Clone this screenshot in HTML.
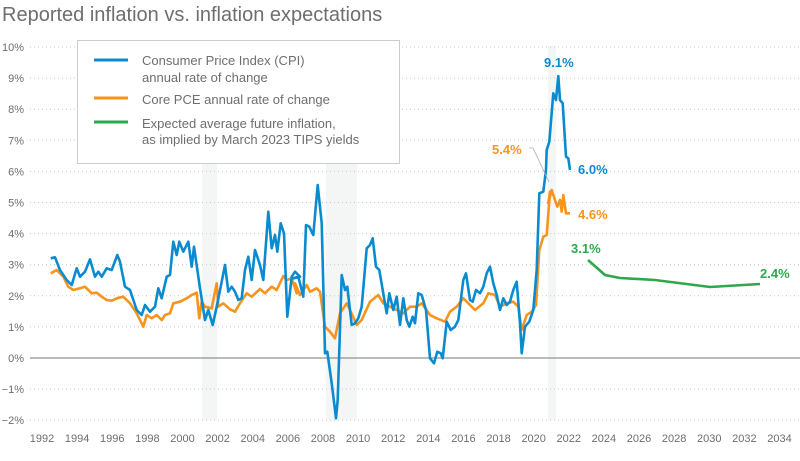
<!DOCTYPE html>
<html><head><meta charset="utf-8"><style>
html,body{margin:0;padding:0;background:#fff;}
body{width:800px;height:456px;overflow:hidden;font-family:"Liberation Sans",sans-serif;}
</style></head><body>
<svg id="s" width="800" height="456" xmlns="http://www.w3.org/2000/svg" font-family="Liberation Sans, sans-serif">
<text x="2" y="21" font-size="20" fill="#6d6e71">Reported inflation vs. inflation expectations</text>
<g id="g"></g>
</svg>
<script>
var g=document.getElementById('g');
function X(t){return 42+(t-1992)*17.56;}
function Y(v){return 358-31.1*v;}
var h='';
[[202,217],[326,357],[548,556]].forEach(function(r){h+='<rect x="'+r[0]+'" y="46" width="'+(r[1]-r[0])+'" height="374" fill="#f3f6f5"/>';});
for(var i=10;i>=-2;i--){var y=Y(i);
 if(i!=0)h+='<line x1="30" x2="800" y1="'+y+'" y2="'+y+'" stroke="#c8c8c8" stroke-width="1" stroke-dasharray="1,3"/>';
 h+='<text x="24" y="'+(y+4)+'" font-size="11" fill="#6d6e71" text-anchor="end">'+(i<0?'\u2212'+(-i):i)+'%</text>';}
h+='<line x1="30" x2="800" y1="'+Y(0)+'" y2="'+Y(0)+'" stroke="#777" stroke-width="1"/>';
for(var yr=1992;yr<=2034;yr+=2)h+='<text x="'+X(yr)+'" y="442" font-size="11" fill="#6d6e71" text-anchor="middle">'+yr+'</text>';
function conv(arr,ox,oy){return arr.map(function(p){return (ox+p[0]/3).toFixed(1)+','+(oy+p[1]/3).toFixed(1);});}
function pl(pts,c){return '<polyline points="'+pts.join(' ')+'" fill="none" stroke="'+c+'" stroke-width="2.6" stroke-linejoin="round"/>';}
var c1=[[62,265],[75,262],[90,300],[110,330],[125,345],[140,295],[150,320],[165,305],[180,268],[195,320],[205,305],[215,320],[230,295],[245,300],[262,255],[270,275],[285,350],[300,360],[320,420],[335,435],[345,405],[360,425],[375,410],[385,355],[395,385],[410,320],[420,315],[430,215],[440,255],[448,215],[460,245],[475,215],[485,290],[492,230],[510,355],[525,450],[535,420],[548,465],[560,410],[575,335],[585,285],[595,365],[605,350],[615,365],[625,390],[635,385],[645,300],[655,260],[665,330],[675,240],[690,285],[700,330],[715,125],[725,235],[735,195],[742,245],[752,160],[762,190],[772,440],[785,320],[795,305],[810,320]];
var c2=[[10,325],[25,320],[40,380],[48,165],[58,170],[70,195],[83,45],[95,160],[105,550],[112,545],[125,640],[135,720],[138,745],[143,690],[155,315],[165,360],[172,350],[185,465],[195,460],[205,445],[215,410],[230,235],[240,225],[248,205],[258,290],[268,300],[278,360],[290,430],[298,370],[310,420],[320,380],[330,465],[340,385],[350,450],[358,470],[368,440],[375,460],[385,370],[395,375],[408,420],[420,565],[432,580],[442,545],[452,550],[458,565],[470,455],[482,480],[495,470],[505,450],[520,330],[528,310],[540,390],[548,395],[558,360],[570,370],[580,350],[590,310],[600,290],[610,340],[620,375],[630,420],[640,385],[650,405],[660,395],[670,360],[680,335],[690,460],[695,550],[705,470],[718,455],[730,420],[740,300],[748,70],[760,65],[768,0]];
var c3=[[200,330],[208,305],[220,160],[228,180],[235,108],[240,180],[248,190],[258,350],[265,355],[270,390]];
var p1=[[62,310],[80,300],[100,320],[115,350],[130,360],[150,355],[165,350],[185,370],[200,368],[215,380],[230,390],[245,392],[260,385],[280,380],[300,400],[320,430],[340,470],[350,435],[365,445],[380,435],[395,450],[405,435],[420,430],[430,400],[450,395],[470,385],[485,375],[500,368],[508,445],[515,395],[525,410],[545,415],[560,340],[565,410],[580,400],[600,418],[615,425],[630,400],[650,370],[665,380],[690,357],[705,370],[725,350],[740,360],[760,318],[770,330],[785,325],[800,370]];
var p2=[[15,340],[30,375],[50,345],[60,365],[80,355],[90,365],[105,470],[120,485],[135,505],[150,430],[170,400],[180,420],[200,465],[215,450],[240,395],[265,375],[280,400],[300,410],[320,420],[340,430],[360,410],[380,410],[395,400],[420,435],[440,445],[465,455],[480,425],[500,410],[520,385],[540,405],[555,420],[580,400],[595,370],[615,375],[630,410],[650,400],[670,395],[685,410],[695,480],[710,435],[725,425],[738,405],[748,240],[760,200],[770,195],[780,65]];
var p3=[[205,490],[215,450],[225,480],[232,500],[240,480],[245,515],[250,465],[258,520],[270,520]];
h+=pl(conv(p1,30,170).concat(conv(p2,290,170),conv(p3,480,40)),'#f7941d');
h+=pl(conv(c1,30,170).concat(conv(c2,290,170),conv(c3,480,40)),'#0a8bd0');
h+='<polyline points="588,260 605,275 620,278 655,280 710,287 760,284" fill="none" stroke="#2ea84a" stroke-width="2.6"/>';
h+='<polyline points="529,148 533,148 549,182" fill="none" stroke="#aaa" stroke-width="0.8"/>';
h+='<text x="544" y="67" font-size="13" font-weight="bold" fill="#0a8bd0">9.1%</text>';
h+='<text x="578" y="174" font-size="13" font-weight="bold" fill="#0a8bd0">6.0%</text>';
h+='<text x="492" y="154" font-size="13" font-weight="bold" fill="#f7941d">5.4%</text>';
h+='<text x="578" y="219" font-size="13" font-weight="bold" fill="#f7941d">4.6%</text>';
h+='<text x="571" y="253" font-size="13" font-weight="bold" fill="#2ea84a">3.1%</text>';
h+='<text x="760" y="278" font-size="13" font-weight="bold" fill="#2ea84a">2.4%</text>';
h+='<rect x="77.5" y="40.5" width="322" height="123" fill="#fff" stroke="#ccc"/>';
h+='<line x1="94" x2="128" y1="60" y2="60" stroke="#0a8bd0" stroke-width="3"/>';
h+='<line x1="94" x2="128" y1="98" y2="98" stroke="#f7941d" stroke-width="3"/>';
h+='<line x1="94" x2="128" y1="122" y2="122" stroke="#2ea84a" stroke-width="3"/>';
var L=[['Consumer Price Index (CPI)',65],['annual rate of change',82],['Core PCE annual rate of change',104],['Expected average future inflation,',128],['as implied by March 2023 TIPS yields',144]];
L.forEach(function(l){h+='<text x="142" y="'+l[1]+'" font-size="13" fill="#6d6e71">'+l[0]+'</text>';});
g.innerHTML=h;
</script>
</body></html>
